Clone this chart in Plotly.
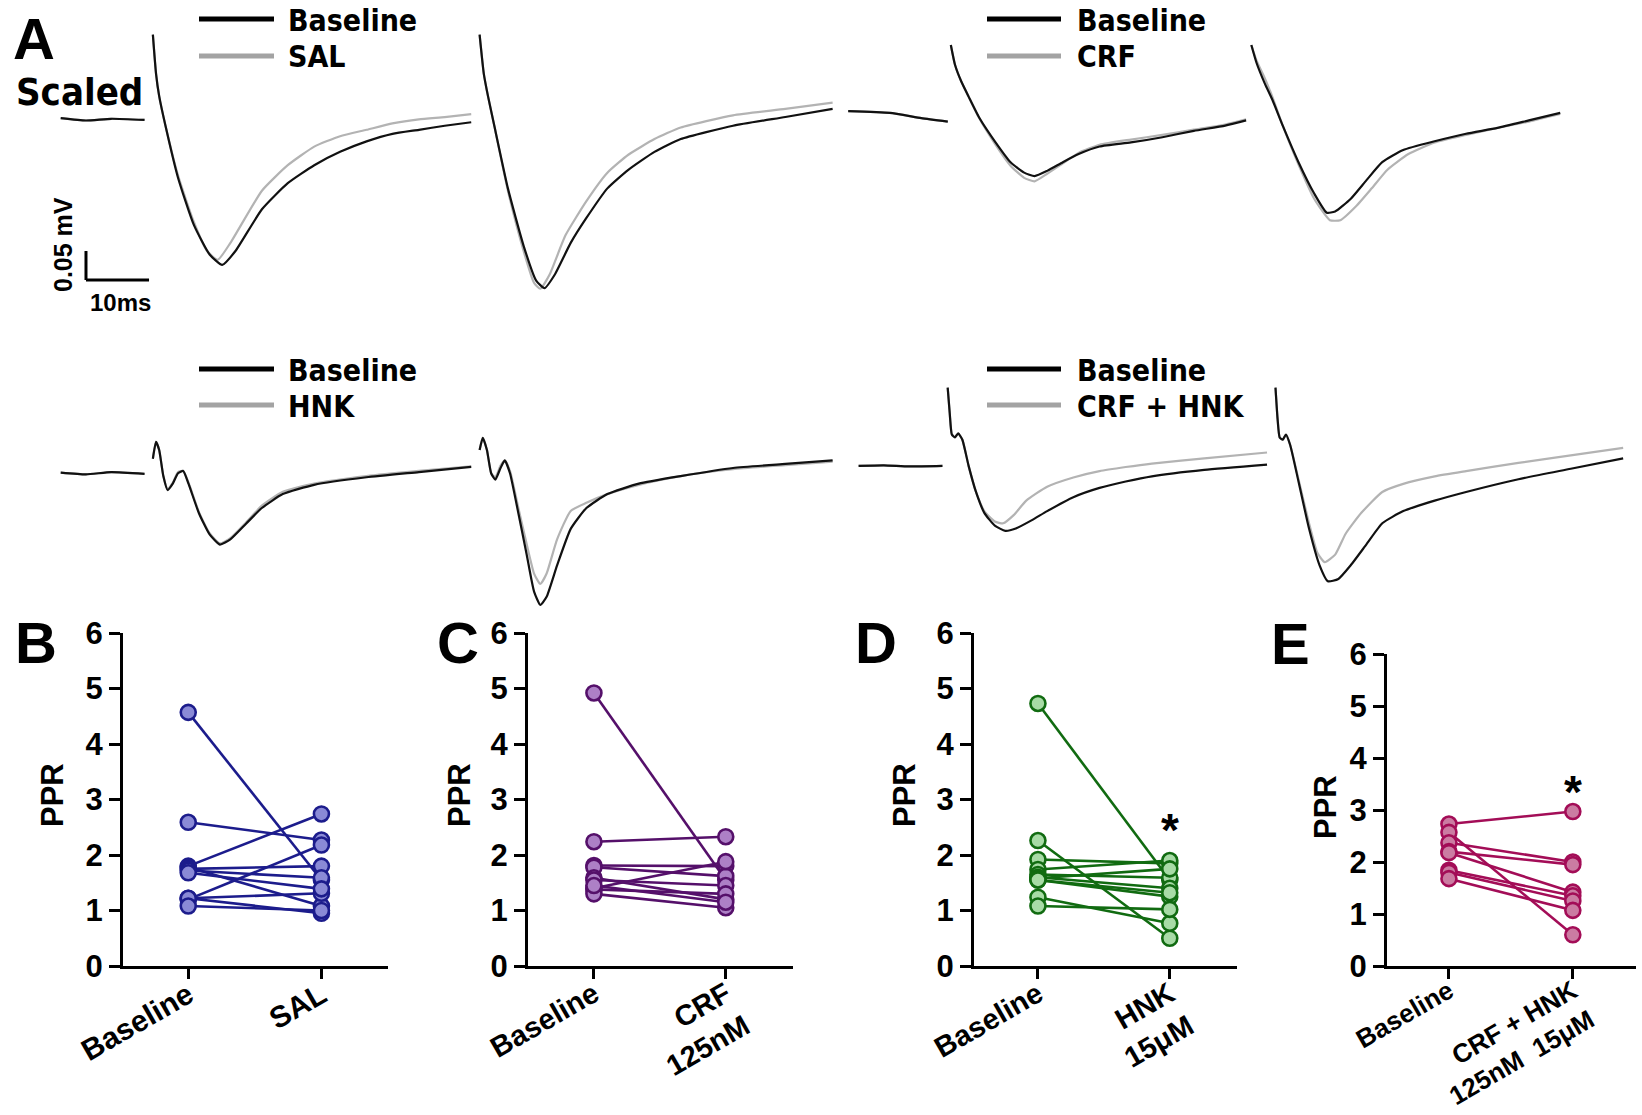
import plotly.graph_objects as go

W, H = 1642, 1115

# ---------------- Panel A : example field potentials ----------------
# time in ms from the start of each sweep, voltage in mV relative to pre-stimulus level
PRE_T = [0.0, 4.0, 8.0, 13.3]
SAL_PRE_V = [0.002, -0.002, 0.001, -0.001]
HNK_PRE_V = [0.001, -0.002, 0.002, -0.001]
CH_PRE_V = [0.0, 0.001, -0.001, 0.0]
CRF_PRE_T = [0.0, 6.6, 11.6, 15.8]
CRF_PRE_V = [0.007, 0.004, -0.005, -0.011]

SAL_P1_T_BL = [0, 0.5, 1.0, 2.0, 4.0, 6.5, 9.0, 11.0, 13.1, 17.3, 21.4, 25.6, 29.7, 33.9, 38.0, 42.2, 46.3, 50.5]
SAL_P1_V_BL = [0.146, 0.079, 0.040, -0.011, -0.101, -0.182, -0.233, -0.251, -0.227, -0.155, -0.110, -0.079, -0.056, -0.038, -0.025, -0.018, -0.011, -0.005]
SAL_P1_T_DR = [0, 0.5, 1.0, 2.0, 4.0, 6.5, 8.6, 10.3, 12.3, 17.3, 21.4, 25.6, 29.7, 33.9, 38.0, 42.2, 46.3, 50.5]
SAL_P1_V_DR = [0.146, 0.079, 0.040, -0.011, -0.097, -0.177, -0.227, -0.242, -0.213, -0.123, -0.079, -0.047, -0.029, -0.018, -0.007, 0.0, 0.004, 0.009]
SAL_P2_T_BL = [0, 0.66, 1.33, 2.33, 4.49, 6.98, 8.97, 10.3, 11.96, 14.45, 16.94, 20.27, 23.59, 27.74, 31.9, 40.2, 48.5, 56.0]
SAL_P2_V_BL = [0.146, 0.079, 0.040, -0.011, -0.119, -0.218, -0.278, -0.291, -0.267, -0.213, -0.170, -0.119, -0.087, -0.056, -0.034, -0.011, 0.004, 0.018]
SAL_P2_T_DR = [0, 0.66, 1.33, 2.33, 4.49, 6.98, 8.64, 9.63, 11.13, 13.62, 16.94, 20.27, 23.59, 27.74, 31.9, 40.2, 48.5, 56.0]
SAL_P2_V_DR = [0.146, 0.079, 0.040, -0.011, -0.123, -0.227, -0.282, -0.292, -0.267, -0.200, -0.141, -0.092, -0.061, -0.034, -0.014, 0.007, 0.018, 0.029]

CRF_P1_T_BL = [0, 0.66, 1.66, 2.82, 4.49, 6.98, 9.47, 11.63, 13.29, 15.28, 17.77, 20.27, 23.59, 28.57, 33.55, 38.54, 43.52, 46.84]
CRF_P1_V_BL = [0.121, 0.087, 0.058, 0.032, -0.004, -0.045, -0.081, -0.099, -0.105, -0.096, -0.081, -0.067, -0.054, -0.047, -0.038, -0.027, -0.018, -0.009]
CRF_P1_T_DR = CRF_P1_T_BL
CRF_P1_V_DR = [0.121, 0.087, 0.058, 0.032, -0.005, -0.049, -0.087, -0.108, -0.114, -0.101, -0.083, -0.065, -0.051, -0.042, -0.034, -0.025, -0.016, -0.007]
CRF_P2_T_BL = [0, 0.83, 2.16, 3.32, 4.98, 7.48, 9.97, 11.96, 13.29, 15.78, 18.27, 20.76, 24.09, 29.07, 34.05, 39.04, 44.02, 49.0]
CRF_P2_V_BL = [0.121, 0.090, 0.054, 0.027, -0.018, -0.081, -0.135, -0.168, -0.166, -0.144, -0.112, -0.081, -0.060, -0.045, -0.032, -0.022, -0.009, 0.004]
CRF_P2_T_DR = [0, 0.83, 2.16, 3.32, 4.98, 7.48, 9.97, 12.46, 14.12, 16.61, 19.10, 21.59, 24.92, 29.07, 34.05, 39.04, 44.02, 49.0]
CRF_P2_V_DR = [0.121, 0.094, 0.063, 0.032, -0.018, -0.085, -0.144, -0.181, -0.181, -0.157, -0.126, -0.094, -0.067, -0.047, -0.034, -0.022, -0.011, 0.002]

HNK_P1_T_BL = [0, 0.5, 1.0, 1.66, 2.33, 3.16, 3.99, 4.82, 5.65, 7.31, 8.97, 10.63, 12.29, 14.78, 17.28, 20.6, 25.58, 33.89, 42.19, 50.5]
HNK_P1_V_BL = [0.025, 0.054, 0.040, -0.005, -0.029, -0.018, 0.0, 0.004, -0.018, -0.069, -0.105, -0.123, -0.114, -0.087, -0.060, -0.036, -0.020, -0.007, 0.002, 0.011]
HNK_P1_T_DR = HNK_P1_T_BL
HNK_P1_V_DR = [0.025, 0.054, 0.040, -0.005, -0.027, -0.016, 0.002, 0.004, -0.016, -0.067, -0.103, -0.121, -0.112, -0.085, -0.056, -0.032, -0.018, -0.005, 0.004, 0.012]
HNK_P2_T_BL = [0, 0.5, 1.16, 1.83, 2.49, 3.32, 3.99, 4.82, 6.15, 7.48, 8.64, 9.63, 10.63, 12.29, 14.45, 16.94, 20.27, 25.25, 31.89, 40.2, 48.5, 56.0]
HNK_P2_V_BL = [0.040, 0.061, 0.040, 0.0, -0.011, 0.009, 0.022, 0.0, -0.069, -0.141, -0.204, -0.227, -0.213, -0.159, -0.096, -0.060, -0.036, -0.018, -0.005, 0.009, 0.016, 0.022]
HNK_P2_T_DR = HNK_P2_T_BL
HNK_P2_V_DR = [0.040, 0.061, 0.040, 0.0, -0.007, 0.013, 0.022, 0.004, -0.060, -0.123, -0.173, -0.191, -0.173, -0.114, -0.065, -0.051, -0.036, -0.020, -0.005, 0.007, 0.014, 0.020]

CH_P1_T_BL = [0, 0.33, 0.66, 1.16, 1.66, 2.33, 3.32, 4.49, 5.81, 7.48, 9.14, 10.8, 13.29, 15.78, 19.93, 24.09, 28.24, 32.39, 40.7, 50.66]
CH_P1_V_BL = [0.135, 0.090, 0.054, 0.049, 0.056, 0.045, 0.0, -0.045, -0.081, -0.103, -0.112, -0.108, -0.094, -0.078, -0.054, -0.038, -0.027, -0.018, -0.007, 0.002]
CH_P1_T_DR = [0, 0.33, 0.66, 1.16, 1.66, 2.33, 3.32, 4.49, 5.81, 7.48, 8.80, 10.47, 12.46, 15.78, 19.93, 24.09, 28.24, 32.39, 40.7, 50.66]
CH_P1_V_DR = [0.135, 0.090, 0.054, 0.049, 0.056, 0.045, 0.0, -0.045, -0.078, -0.096, -0.099, -0.085, -0.060, -0.036, -0.020, -0.009, -0.002, 0.004, 0.013, 0.023]
CH_P2_T_BL = [0, 0.33, 0.66, 1.16, 1.66, 2.33, 3.65, 5.32, 6.98, 8.31, 9.97, 11.96, 14.45, 16.94, 20.27, 25.25, 30.23, 38.54, 46.84, 55.15]
CH_P2_V_BL = [0.135, 0.081, 0.049, 0.045, 0.054, 0.036, -0.027, -0.108, -0.171, -0.199, -0.195, -0.171, -0.135, -0.099, -0.078, -0.060, -0.045, -0.023, -0.005, 0.013]
CH_P2_T_DR = [0, 0.33, 0.66, 1.16, 1.66, 2.33, 3.65, 5.32, 6.64, 7.81, 9.47, 11.13, 13.62, 16.94, 20.27, 25.25, 30.23, 38.54, 46.84, 55.15]
CH_P2_V_DR = [0.135, 0.081, 0.049, 0.045, 0.054, 0.036, -0.023, -0.099, -0.150, -0.166, -0.153, -0.117, -0.081, -0.045, -0.031, -0.018, -0.009, 0.005, 0.018, 0.031]

SCALE_MS = 10      # scale bar
SCALE_MV = 0.05

# ---------------- Panels B-E : paired-pulse ratios ----------------
SAL_BASE = [4.57, 2.59, 1.80, 1.20, 1.78, 1.22, 1.22, 1.75, 1.72, 1.68, 1.08]
SAL_DRUG = [1.55, 2.27, 2.74, 2.18, 1.08, 1.31, 0.95, 1.80, 1.59, 1.39, 1.00]
CRF_BASE = [4.92, 2.24, 1.81, 1.78, 1.59, 1.55, 1.40, 1.38, 1.30, 1.45]
CRF_DRUG = [1.55, 2.33, 1.80, 1.62, 1.20, 1.45, 1.88, 1.30, 1.05, 1.15]
HNK_BASE = [4.73, 2.26, 1.92, 1.74, 1.65, 1.60, 1.55, 1.58, 1.24, 1.08, 1.55]
HNK_DRUG = [1.55, 0.50, 1.85, 1.90, 1.59, 1.40, 1.25, 1.75, 0.77, 1.02, 1.32]
CH_BASE = [2.73, 2.57, 2.37, 2.20, 2.18, 1.84, 1.80, 1.68]
CH_DRUG = [2.97, 0.60, 2.00, 1.95, 1.42, 1.35, 1.25, 1.07]

CATS_B = ["Baseline", "SAL"]
CATS_C = ["Baseline", "CRF<br>125nM"]
CATS_D = ["Baseline", "HNK<br>15μM"]
CATS_E = ["Baseline", "CRF + HNK<br>125nM\u00a0\u00a015μM"]
Y_TICKS = [0, 1, 2, 3, 4, 5, 6]

# ---------------- styling / layout ----------------
BOLD = "Liberation Sans, Arial, Helvetica, sans-serif"
NARROW = "Liberation Sans Narrow, Arial Narrow, DejaVu Sans Condensed, Liberation Sans, sans-serif"
PX_MS = 6.304   # pixels per ms in panel A
PX_MV = 580.0   # pixels per mV in panel A
BLACK_TR = "#111111"
GRAY_TR = "#b3b3b3"


def px(x, y):
    return x / W, 1 - y / H


fig = go.Figure()

A_X, A_Y = "x5", "y5"

sweeps = [
    dict(pre=(9.63, PRE_T, SAL_PRE_V), p1=24.25, p2=76.08, base=-0.2058,
         d=(SAL_P1_T_BL, SAL_P1_V_BL, SAL_P1_T_DR, SAL_P1_V_DR, SAL_P2_T_BL, SAL_P2_V_BL, SAL_P2_T_DR, SAL_P2_V_DR)),
    dict(pre=(134.55, CRF_PRE_T, CRF_PRE_V), p1=150.83, p2=198.5, base=-0.1986,
         d=(CRF_P1_T_BL, CRF_P1_V_BL, CRF_P1_T_DR, CRF_P1_V_DR, CRF_P2_T_BL, CRF_P2_V_BL, CRF_P2_T_DR, CRF_P2_V_DR)),
    dict(pre=(9.63, PRE_T, HNK_PRE_V), p1=24.25, p2=76.08, base=-0.8159,
         d=(HNK_P1_T_BL, HNK_P1_V_BL, HNK_P1_T_DR, HNK_P1_V_DR, HNK_P2_T_BL, HNK_P2_V_BL, HNK_P2_T_DR, HNK_P2_V_DR)),
    dict(pre=(136.2, PRE_T, CH_PRE_V), p1=150.33, p2=202.33, base=-0.8032,
         d=(CH_P1_T_BL, CH_P1_V_BL, CH_P1_T_DR, CH_P1_V_DR, CH_P2_T_BL, CH_P2_V_BL, CH_P2_T_DR, CH_P2_V_DR)),
]


def add_tr(t, v, t0, b, color, width):
    fig.add_trace(go.Scatter(
        x=[t0 + ti for ti in t], y=[b + vi for vi in v], mode="lines",
        line=dict(color=color, width=width, shape="spline", smoothing=0.5),
        xaxis=A_X, yaxis=A_Y, showlegend=False, hoverinfo="skip"))


for s in sweeps:
    b = s["base"]
    p0, pt, pv = s["pre"]
    add_tr(pt, pv, p0, b, GRAY_TR, 2.2)
    add_tr(pt, pv, p0, b, BLACK_TR, 2.2)
    t1b, v1b, t1d, v1d, t2b, v2b, t2d, v2d = s["d"]
    add_tr(t1d, v1d, s["p1"], b, GRAY_TR, 2.2)
    add_tr(t2d, v2d, s["p2"], b, GRAY_TR, 2.2)
    add_tr(t1b, v1b, s["p1"], b, BLACK_TR, 2.2)
    add_tr(t2b, v2b, s["p2"], b, BLACK_TR, 2.2)

SB_X, SB_Y = 13.64, -0.4828
fig.add_shape(type="line", xref=A_X, yref=A_Y, x0=SB_X, x1=SB_X, y0=SB_Y, y1=SB_Y + SCALE_MV,
              line=dict(color="black", width=3))
fig.add_shape(type="line", xref=A_X, yref=A_Y, x0=SB_X, x1=SB_X + SCALE_MS, y0=SB_Y, y1=SB_Y,
              line=dict(color="black", width=3))

# ---------------- PPR panels ----------------
panels = [
    dict(ax="", base=SAL_BASE, drug=SAL_DRUG, cats=CATS_B, line="#1c1c8c", fill="#8a8ad6",
         xd=(123, 388), yd=(966, 633), xr=(-0.49, 1.5), fs=30),
    dict(ax="2", base=CRF_BASE, drug=CRF_DRUG, cats=CATS_C, line="#55106a", fill="#ad80c6",
         xd=(528, 793), yd=(966, 633), xr=(-0.5, 1.51), fs=29),
    dict(ax="3", base=HNK_BASE, drug=HNK_DRUG, cats=CATS_D, line="#116b11", fill="#a8dba6",
         xd=(974, 1237), yd=(966, 633), xr=(-0.485, 1.51), fs=29),
    dict(ax="4", base=CH_BASE, drug=CH_DRUG, cats=CATS_E, line="#a30d57", fill="#cb7ca2",
         xd=(1387, 1636), yd=(966, 654), xr=(-0.5, 1.51), fs=26),
]

axis_common_x = dict(showline=True, linewidth=3, linecolor="black", ticks="outside", ticklen=10,
                     tickwidth=3, tickcolor="black", showgrid=False, zeroline=False, tickangle=-30,
                     automargin=False, ticklabelstandoff=-13)
axis_common_y = dict(showline=True, linewidth=3, linecolor="black", ticks="outside", ticklen=11,
                     tickwidth=3, tickcolor="black", showgrid=False, zeroline=False, range=[0, 6],
                     automargin=False,
                     tickvals=Y_TICKS, ticktext=[str(v) for v in Y_TICKS],
                     tickfont=dict(family=BOLD, size=31, color="black", weight="bold"))

layout_axes = {}
for p in panels:
    xs, ys = [], []
    for b_, d_ in zip(p["base"], p["drug"]):
        xs += [0, 1, None]
        ys += [b_, d_, None]
    xa = "x" + p["ax"]
    ya = "y" + p["ax"]
    fig.add_trace(go.Scatter(x=xs, y=ys, mode="lines", line=dict(color=p["line"], width=2.6),
                             xaxis=xa, yaxis=ya, showlegend=False, hoverinfo="skip"))
    mx = [0] * len(p["base"]) + [1] * len(p["drug"])
    my = list(p["base"]) + list(p["drug"])
    fig.add_trace(go.Scatter(x=mx, y=my, mode="markers", cliponaxis=False,
                             marker=dict(size=15, color=p["fill"], line=dict(color=p["line"], width=2.6)),
                             xaxis=xa, yaxis=ya, showlegend=False, hoverinfo="skip"))
    key = p["ax"]
    layout_axes["xaxis" + key] = dict(axis_common_x, domain=[p["xd"][0] / W, p["xd"][1] / W],
                                      range=list(p["xr"]), tickvals=[0, 1], ticktext=p["cats"],
                                      tickfont=dict(family=BOLD, size=p["fs"], color="black", weight="bold"),
                                      anchor="y" + key)
    layout_axes["yaxis" + key] = dict(axis_common_y, domain=[1 - p["yd"][0] / H, 1 - p["yd"][1] / H],
                                      anchor="x" + key)

layout_axes["xaxis5"] = dict(domain=[0, 1], range=[0, W / PX_MS], visible=False, anchor="y5",
                             automargin=False, showgrid=False, zeroline=False)
layout_axes["yaxis5"] = dict(domain=[0, 1], range=[-H / PX_MV, 0], visible=False, anchor="x5",
                             automargin=False, showgrid=False, zeroline=False)

ann = []


def text(x, y, s, size, family=BOLD, angle=0, xanchor="center", yanchor="middle"):
    X, Y = px(x, y)
    ann.append(dict(x=X, y=Y, xref="paper", yref="paper", text=s, showarrow=False, textangle=angle,
                    xanchor=xanchor, yanchor=yanchor,
                    font=dict(family=family, size=size, color="black", weight="bold")))


text(34, 38, "A", 58)
text(36, 642, "B", 58)
text(458, 642, "C", 58)
text(876, 642, "D", 58)
text(1290, 643, "E", 58)
text(79, 92, "Scaled", 38, family=NARROW)
text(63, 244, "0.05 mV", 25, angle=-90)
text(120, 303, "10ms", 24)
for xx, yy in [(53, 795), (460, 795), (905, 795), (1325, 807)]:
    text(xx, yy, "PPR", 31, angle=-90)
for ax, yv in [("3", 2.45), ("4", 3.35)]:
    ann.append(dict(x=1, y=yv, xref="x" + ax, yref="y" + ax, text="*", showarrow=False,
                    font=dict(family=BOLD, size=46, color="black", weight="bold"), yanchor="middle"))

shapes = []
for (lx0, lx1, tx, y1, y2, lab) in [
    (199, 274, 286, 19, 56, "SAL"),
    (987, 1061, 1075, 19, 56, "CRF"),
    (199, 274, 286, 369, 405, "HNK"),
    (987, 1061, 1075, 369, 405, "CRF + HNK"),
]:
    for yy, col in [(y1, "black"), (y2, "#a3a3a3")]:
        X0, Y0 = px(lx0, yy)
        X1, _ = px(lx1, yy)
        shapes.append(dict(type="line", xref="paper", yref="paper", x0=X0, x1=X1, y0=Y0, y1=Y0,
                           line=dict(color=col, width=5)))
    text(tx, y1 + 1, "Baseline", 30, family=NARROW, xanchor="left")
    text(tx, y2 + 1, lab, 30, family=NARROW, xanchor="left")

fig.update_layout(
    template="none",
    width=W, height=H, margin=dict(l=0, r=0, t=0, b=0, pad=0, autoexpand=False),
    paper_bgcolor="white", plot_bgcolor="rgba(0,0,0,0)",
    showlegend=False, annotations=ann, shapes=list(fig.layout.shapes) + shapes,
    **layout_axes,
)

fig.write_html("out.html", config={"displayModeBar": False},
               post_script="document.body.style.margin='0';")
